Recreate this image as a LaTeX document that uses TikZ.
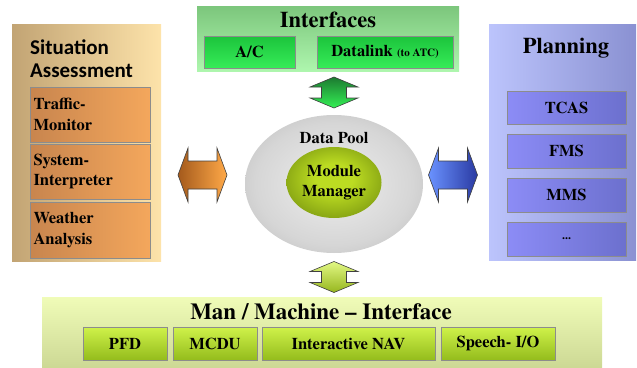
\documentclass[tikz,border=0pt]{standalone}
\usepackage{fontspec}
\newfontfamily\tnr{texgyretermes}[Extension=.otf, UprightFont=*-regular, BoldFont=*-bold]
\newfontfamily\calib{Carlito}
\usetikzlibrary{shapes.geometric}
\definecolor{ifT}{HTML}{7CC67C}
\definecolor{ifB}{HTML}{AEF6AE}
\definecolor{ifBoxT}{HTML}{1CC43C}
\definecolor{ifBoxB}{HTML}{36EC58}
\definecolor{saL}{HTML}{C2A474}
\definecolor{saR}{HTML}{FDE3AA}
\definecolor{saBoxL}{HTML}{C8854E}
\definecolor{saBoxR}{HTML}{F4A75C}
\definecolor{plL}{HTML}{BCC4FC}
\definecolor{plR}{HTML}{8A91D2}
\definecolor{plBoxL}{HTML}{8C8CF6}
\definecolor{plBoxR}{HTML}{6C70CE}
\definecolor{mmT}{HTML}{F0FCB8}
\definecolor{mmB}{HTML}{CCD894}
\definecolor{mmBoxT}{HTML}{CFF24A}
\definecolor{mmBoxB}{HTML}{94BC1C}
\definecolor{ringC}{HTML}{EEEEEE}
\definecolor{ringIn}{HTML}{D6D6D6}
\definecolor{ringOut}{HTML}{9C9C9C}
\definecolor{mgIn}{HTML}{BCDC22}
\definecolor{mgOut}{HTML}{425C00}
\definecolor{orL}{HTML}{A45A1C}
\definecolor{orR}{HTML}{FFA948}
\definecolor{blL}{HTML}{6A92FF}
\definecolor{blR}{HTML}{2A3AA2}
\definecolor{gnT}{HTML}{1C7A30}
\definecolor{gnB}{HTML}{34F055}
\definecolor{ygT}{HTML}{E2F884}
\definecolor{ygB}{HTML}{96B61E}
\definecolor{boxline}{HTML}{8C8C8C}
\pgfdeclareradialshading{ringshade}{\pgfpoint{0bp}{0bp}}{color(0bp)=(ringC); color(22bp)=(ringIn); color(50bp)=(ringOut)}
\pgfdeclareradialshading{mgshade}{\pgfpoint{0bp}{4bp}}{color(0bp)=(mgIn); color(10bp)=(mgIn); color(50bp)=(mgOut)}
\tikzset{
  panel/.style={rectangle, inner sep=0pt, outer sep=0pt},
  subbox/.style={rectangle, draw=boxline, line width=0.9pt, inner sep=0pt, text=black},
  lbl/.style={font=\tnr\bfseries\fontsize{16.5}{20.5}\selectfont},
  ttl/.style={font=\tnr\bfseries\fontsize{22.5}{24}\selectfont, inner sep=0pt},
  arrline/.style={draw=black!75, line width=0.6pt},
  harrow/.pic={\shadedraw[arrline, pic actions] (-24.5,0) -- (-14.5,-27) -- (-14.5,-14) -- (14.5,-14) -- (14.5,-27) -- (24.5,0) -- (14.5,27) -- (14.5,14) -- (-14.5,14) -- (-14.5,27) -- cycle;},
  varrow/.pic={\shadedraw[arrline, pic actions] (0,-15.5) -- (24,-5.5) -- (12.5,-5.5) -- (12.5,5.5) -- (24,5.5) -- (0,15.5) -- (-24,5.5) -- (-12.5,5.5) -- (-12.5,-5.5) -- (-24,-5.5) -- cycle;}
}
\begin{document}
\begin{tikzpicture}[x=1pt,y=-1pt]
\useasboundingbox (0,0) rectangle (637,367);
% Interfaces
\node[panel, top color=ifT, bottom color=ifB, minimum width=262pt, minimum height=65pt] (ifc) at (328,38.5) {};
\node[ttl] (ifcT) at (328,20) {Interfaces};
\node[subbox, lbl, top color=ifBoxT, bottom color=ifBoxB, minimum width=91pt, minimum height=32pt] (ac) at (249.5,52) {A/C};
\node[subbox, lbl, top color=ifBoxT, bottom color=ifBoxB, minimum width=136pt, minimum height=32pt] (dl) at (385,52) {Datalink {\fontsize{11}{12}\selectfont (to ATC)}};
% Situation Assessment
\node[panel, left color=saL, right color=saR, minimum width=149pt, minimum height=237pt] (sa) at (86.5,142.5) {};
\node[font=\calib\bfseries\fontsize{21}{23.5}\selectfont, align=left, anchor=west, inner sep=0pt] (saT) at (30,58.5) {Situation\\Assessment};
\node[subbox, lbl, left color=saBoxL, right color=saBoxR, minimum width=120pt, minimum height=55pt, text width=113pt, align=left] (tm) at (90,114.5) {Traffic-\\Monitor};
\node[subbox, lbl, left color=saBoxL, right color=saBoxR, minimum width=120pt, minimum height=55pt, text width=113pt, align=left] (si) at (90,171.5) {System-\\Interpreter};
\node[subbox, lbl, left color=saBoxL, right color=saBoxR, minimum width=120pt, minimum height=56pt, text width=113pt, align=left] (wa) at (90,230) {Weather\\Analysis};
% Planning
\node[panel, left color=plL, right color=plR, minimum width=147pt, minimum height=236pt] (pl) at (562.5,142) {};
\node[ttl] (plT) at (566,48) {Planning};
\node[subbox, lbl, left color=plBoxL, right color=plBoxR, minimum width=119pt, minimum height=33pt] (tcas) at (566.5,108) {TCAS};
\node[subbox, lbl, left color=plBoxL, right color=plBoxR, minimum width=119pt, minimum height=34pt] (fms) at (566.5,151) {FMS};
\node[subbox, lbl, left color=plBoxL, right color=plBoxR, minimum width=119pt, minimum height=34pt] (mms) at (566.5,195) {MMS};
\node[subbox, lbl, left color=plBoxL, right color=plBoxR, minimum width=119pt, minimum height=34pt] (more) at (566.5,239) {\fontsize{12}{14}\selectfont ...};
% Man / Machine Interface
\node[panel, top color=mmT, bottom color=mmB, minimum width=560pt, minimum height=71pt] (mmi) at (322,332.5) {};
\node[ttl, font=\tnr\bfseries\fontsize{23}{24}\selectfont] (mmiT) at (321,312) {Man / Machine – Interface};
\node[subbox, lbl, top color=mmBoxT, bottom color=mmBoxB, minimum width=84pt, minimum height=33pt] (pfd) at (125,343.5) {PFD};
\node[subbox, lbl, top color=mmBoxT, bottom color=mmBoxB, minimum width=84pt, minimum height=33pt] (mcdu) at (215,343.5) {MCDU};
\node[subbox, lbl, top color=mmBoxT, bottom color=mmBoxB, minimum width=173pt, minimum height=33pt] (nav) at (348.5,343.5) {Interactive NAV};
\node[subbox, lbl, top color=mmBoxT, bottom color=mmBoxB, minimum width=114pt, minimum height=33pt] (sio) at (498,343.5) {Speech- I/O};
% Data pool
\node[ellipse, shade, shading=ringshade, minimum width=178pt, minimum height=138pt, inner sep=0pt] (pool) at (334,184) {};
\node[lbl, inner sep=0pt] (poolT) at (334,138) {Data Pool};
\node[ellipse, shade, shading=mgshade, minimum width=95pt, minimum height=71pt, inner sep=0pt, lbl, align=center] (mm) at (334,182.5) {Module\\Manager};
% block arrows
\coordinate (aL) at (202.5,175);
\coordinate (aR) at (453,175);
\coordinate (aT) at (334,92.5);
\coordinate (aB) at (334,277);
\pic[left color=orL, right color=orR] at (aL) {harrow};
\pic[left color=blL, right color=blR] at (aR) {harrow};
\pic[top color=gnT, bottom color=gnB] at (aT) {varrow};
\pic[top color=ygT, bottom color=ygB] at (aB) {varrow};
\end{tikzpicture}
\end{document}
